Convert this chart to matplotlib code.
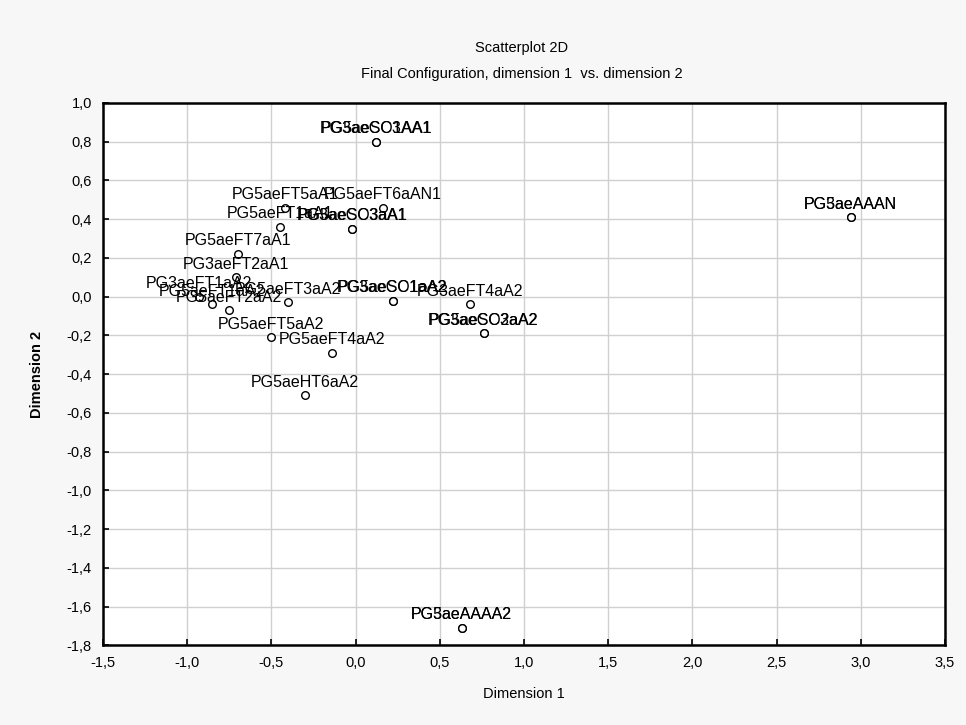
import matplotlib
matplotlib.use("Agg")
import matplotlib.pyplot as plt
from matplotlib.ticker import MultipleLocator, FuncFormatter

plt.rcParams['font.family'] = ['Liberation Sans', 'DejaVu Sans']

# MDS final configuration
labels = [
    "PG5aeSC3AA1", "PG3aeCO1AA1",
    "PG3aeAAAN", "PG5aeAAAN",
    "PG5aeAAAA2", "PG3aeAAAA2",
    "PG5aeHT6aA2",
    "PG5aeFT4aA2",
    "PG5aeSC3aA2", "PG3aeCO2aA2",
    "PG5aeFT5aA1", "PG5aeFT6aAN1",
    "PG5aeFT1aA1", "PG5aeSC3aA1", "PG3aeCO3aA1",
    "PG5aeFT7aA1", "PG3aeFT2aA1",
    "PG3aeFT1aA2", "PG5aeFT1aA2", "PG5aeFT2aA2", "PG5aeFT3aA2",
    "PG5aeSC1aA2", "PG3aeCO1aA2", "PG3aeFT4aA2",
    "PG5aeFT5aA2",
]
dim1 = [
    0.12, 0.12,
    2.94, 2.94,
    0.63, 0.63,
    -0.30,
    -0.14,
    0.76, 0.76,
    -0.42, 0.16,
    -0.45, -0.02, -0.02,
    -0.70, -0.71,
    -0.93, -0.85, -0.75, -0.40,
    0.22, 0.22, 0.68,
    -0.50,
]
dim2 = [
    0.80, 0.80,
    0.41, 0.41,
    -1.71, -1.71,
    -0.51,
    -0.29,
    -0.19, -0.19,
    0.46, 0.46,
    0.36, 0.35, 0.35,
    0.22, 0.10,
    0.00, -0.04, -0.07, -0.03,
    -0.02, -0.02, -0.04,
    -0.21,
]

fig = plt.figure(figsize=(9.66, 7.25), dpi=100)
fig.patch.set_facecolor('#f7f7f7')
ax = fig.add_axes([0.1066, 0.110, 0.8716, 0.748])
ax.set_facecolor('white')

ax.scatter(dim1, dim2, s=30, facecolors='white', edgecolors='black',
           linewidths=1.0, zorder=3)
for x, y, t in zip(dim1, dim2, labels):
    ax.annotate(t, (x, y), xytext=(0, 4), textcoords='offset points',
                ha='center', va='bottom', fontsize=11.5, zorder=4)

ax.set_xlim(-1.5, 3.5)
ax.set_ylim(-1.8, 1.0)
ax.xaxis.set_major_locator(MultipleLocator(0.5))
ax.yaxis.set_major_locator(MultipleLocator(0.2))
comma = FuncFormatter(lambda v, p: ("%.1f" % v).replace('.', ',').replace('-0,0', '0,0'))
ax.xaxis.set_major_formatter(comma)
ax.yaxis.set_major_formatter(comma)
ax.tick_params(direction='in', length=4, width=1.2, labelsize=10.5, pad=8)
ax.grid(True, color='#d0d0d0', linewidth=1.0)
ax.set_axisbelow(True)
for s in ax.spines.values():
    s.set_linewidth(1.8)

ax.set_xlabel("Dimension 1", fontsize=10.5, labelpad=12)
ax.set_ylabel("Dimension 2", fontsize=10.5, fontweight='bold', labelpad=16)
fig.text(0.5 + 0.04, 0.934, "Scatterplot 2D", ha='center', va='center', fontsize=10.5)
fig.text(0.5 + 0.04, 0.898, "Final Configuration, dimension 1  vs. dimension 2",
         ha='center', va='center', fontsize=10.5)

fig.savefig("out.png", dpi=100, facecolor=fig.get_facecolor())
